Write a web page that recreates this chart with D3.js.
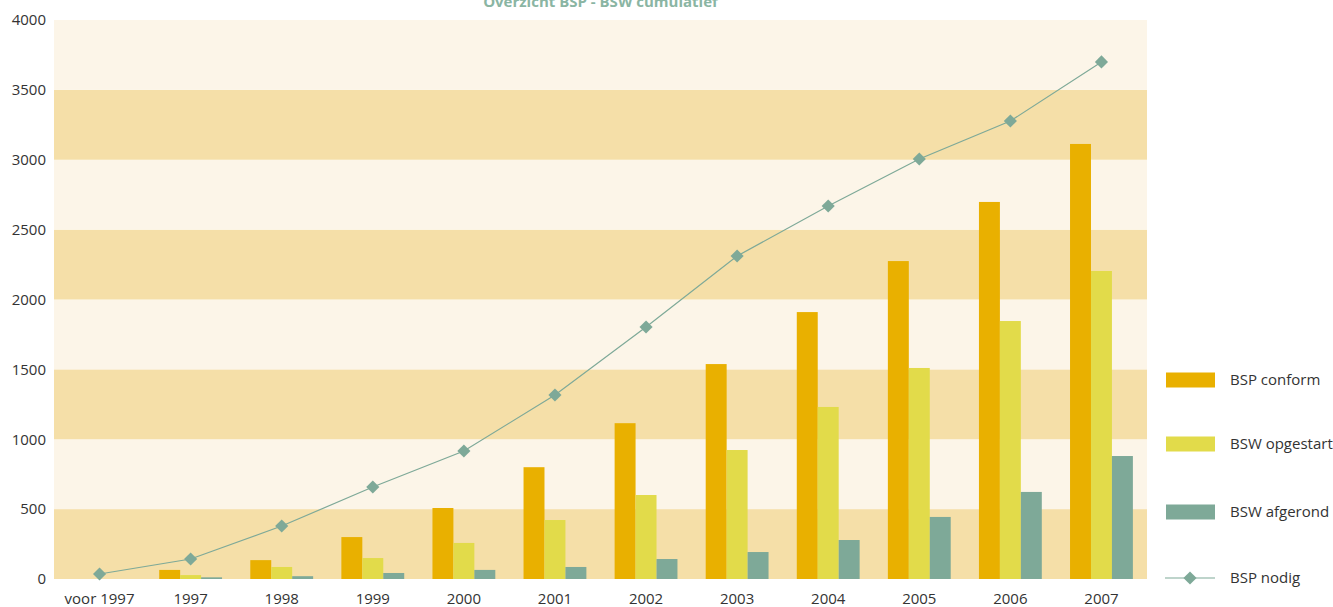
<!DOCTYPE html>
<html>
<head>
<meta charset="utf-8">
<script src="https://cdn.jsdelivr.net/npm/d3@7"></script>
<style>
  body { margin: 0; background: #fff; }
  text { font-family: "Open Sans", "Noto Sans", sans-serif; }
</style>
</head>
<body>
<div id="chart"></div>
<script>
// chart data
var categories = [ "voor 1997", "1997", "1998", "1999", "2000", "2001", "2002", "2003", "2004", "2005", "2006", "2007" ];
var bspConform = [ 0, 65, 135, 300, 508, 800, 1115, 1538, 1910, 2275, 2698, 3113 ];
var bswOpgestart = [ 0, 28, 86, 150, 258, 422, 601, 923, 1231, 1510, 1846, 2204 ];
var bswAfgerond = [ 0, 12, 20, 43, 65, 86, 143, 193, 279, 444, 623, 880 ];
var bspNodig = [ 36, 143, 379, 658, 916, 1317, 1803, 2311, 2669, 3005, 3277, 3700 ];
var yTicks = [ 0, 500, 1000, 1500, 2000, 2500, 3000, 3500, 4000 ];

var barSeries = [
  { name: "BSP conform", values: bspConform, color: "#e9b000" },
  { name: "BSW opgestart", values: bswOpgestart, color: "#e2db4a" },
  { name: "BSW afgerond", values: bswAfgerond, color: "#7ea998" }
];
var lineColor = "#7ea998";

var width = 1333, height = 607;
var margin = { left: 54, right: 186, top: 20, bottom: 28 };
var innerW = width - margin.left - margin.right;
var innerH = height - margin.top - margin.bottom;

var svg = d3.select( "#chart" ).append( "svg" )
  .attr( "width", width ).attr( "height", height );

var g = svg.append( "g" ).attr( "transform", "translate(" + margin.left + "," + margin.top + ")" );

var x = d3.scaleBand().domain( categories ).range( [ 0, innerW ] );
var y = d3.scaleLinear().domain( [ 0, 4000 ] ).range( [ innerH, 0 ] );
var groupW = x.bandwidth() * 0.69;
var xInner = d3.scaleBand().domain( d3.range( barSeries.length ) ).range( [ 0, groupW ] );

// background bands
g.append( "g" ).selectAll( "rect" )
  .data( yTicks.slice( 0, -1 ) )
  .enter().append( "rect" )
  .attr( "x", 0 )
  .attr( "width", innerW )
  .attr( "y", function( d ) { return y( d + 500 ); } )
  .attr( "height", function( d ) { return y( d ) - y( d + 500 ); } )
  .attr( "fill", function( d, i ) { return i % 2 === 0 ? "#f5dfa8" : "#fcf5e8"; } );

// bars
barSeries.forEach( function( s, si ) {
  g.append( "g" ).selectAll( "rect" )
    .data( s.values )
    .enter().append( "rect" )
    .attr( "x", function( d, i ) {
      return x( categories[ i ] ) + ( x.bandwidth() - groupW ) / 2 + xInner( si );
    } )
    .attr( "width", xInner.bandwidth() )
    .attr( "y", function( d ) { return y( d ); } )
    .attr( "height", function( d ) { return innerH - y( d ); } )
    .attr( "fill", s.color );
} );

// line
var line = d3.line()
  .x( function( d, i ) { return x( categories[ i ] ) + x.bandwidth() / 2; } )
  .y( function( d ) { return y( d ); } );

g.append( "path" )
  .datum( bspNodig )
  .attr( "d", line )
  .attr( "fill", "none" )
  .attr( "stroke", lineColor )
  .attr( "stroke-width", 1.2 );

var diamond = d3.symbol().type( d3.symbolDiamond2 ).size( 110 );
g.append( "g" ).selectAll( "path" )
  .data( bspNodig )
  .enter().append( "path" )
  .attr( "d", diamond )
  .attr( "transform", function( d, i ) {
    return "translate(" + ( x( categories[ i ] ) + x.bandwidth() / 2 ) + "," + y( d ) + ")";
  } )
  .attr( "fill", lineColor );

// y axis
var yAxis = g.append( "g" )
  .call( d3.axisLeft( y ).tickValues( yTicks ).tickFormat( d3.format( "d" ) ).tickSize( 0 ).tickPadding( 8 ) );
yAxis.select( ".domain" ).remove();
yAxis.selectAll( "text" )
  .attr( "font-size", 15 ).attr( "fill", "#333" )
  .style( "font-family", "'Open Sans', sans-serif" );

// x axis
var xAxis = g.append( "g" )
  .attr( "transform", "translate(0," + innerH + ")" )
  .call( d3.axisBottom( x ).tickSize( 0 ).tickPadding( 14 ) );
xAxis.select( ".domain" ).remove();
xAxis.selectAll( "text" )
  .attr( "font-size", 15 ).attr( "fill", "#333" )
  .style( "font-family", "'Open Sans', sans-serif" );

// title (partly above the top edge, as in the original)
svg.append( "text" )
  .attr( "x", margin.left + innerW / 2 )
  .attr( "y", 7 )
  .attr( "text-anchor", "middle" )
  .attr( "font-size", 15 )
  .attr( "font-weight", "bold" )
  .attr( "fill", "#8ab5a3" )
  .text( "Overzicht BSP - BSW cumulatief" );

// legend
var legend = svg.append( "g" ).attr( "transform", "translate(1166,0)" );
var legendY = [ 380, 444, 512, 578 ];
barSeries.forEach( function( s, i ) {
  legend.append( "rect" )
    .attr( "x", 0 ).attr( "y", legendY[ i ] - 7.5 )
    .attr( "width", 49 ).attr( "height", 15 )
    .attr( "fill", s.color );
  legend.append( "text" )
    .attr( "x", 64 ).attr( "y", legendY[ i ] )
    .attr( "dy", "0.35em" )
    .attr( "font-size", 15 ).attr( "fill", "#333" )
    .text( s.name );
} );
legend.append( "line" )
  .attr( "x1", -1 ).attr( "x2", 49 )
  .attr( "y1", legendY[ 3 ] ).attr( "y2", legendY[ 3 ] )
  .attr( "stroke", lineColor ).attr( "stroke-width", 1.2 );
legend.append( "path" )
  .attr( "d", diamond )
  .attr( "transform", "translate(24," + legendY[ 3 ] + ")" )
  .attr( "fill", lineColor );
legend.append( "text" )
  .attr( "x", 64 ).attr( "y", legendY[ 3 ] )
  .attr( "dy", "0.35em" )
  .attr( "font-size", 15 ).attr( "fill", "#333" )
  .text( "BSP nodig" );
</script>
</body>
</html>
